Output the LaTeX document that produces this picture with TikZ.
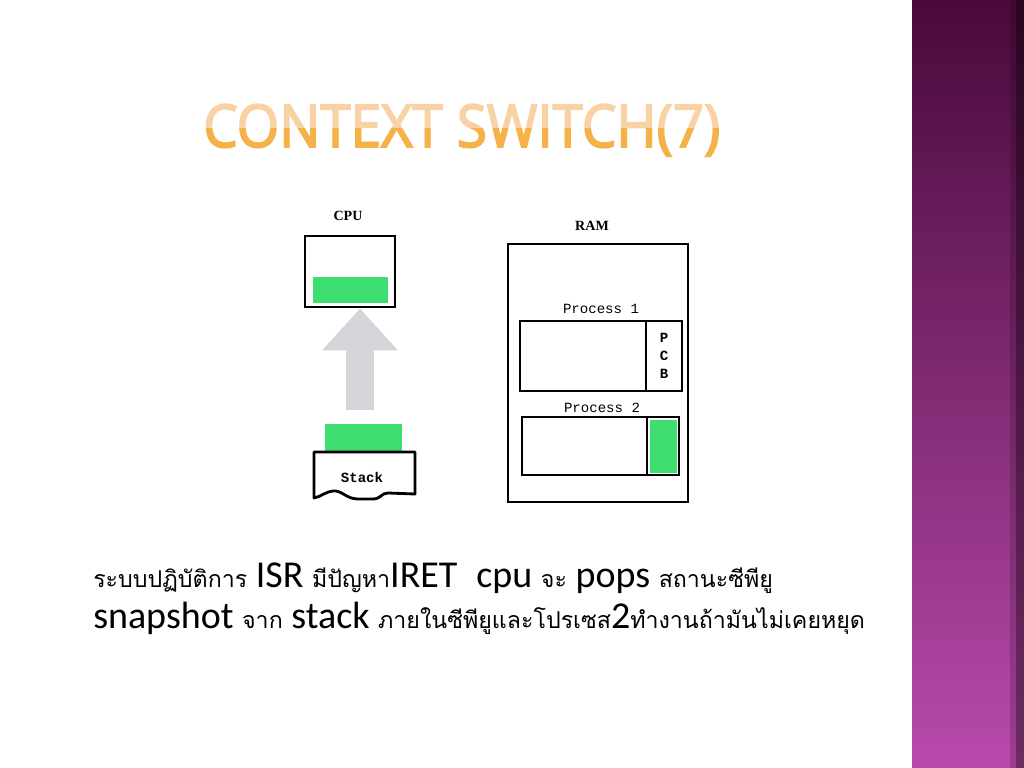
\documentclass[tikz,border=0pt]{standalone}
\usepackage{fontspec}
\setmainfont{Liberation Serif}
\newfontfamily\thaifont[Script=Thai]{Loma}
\newfontfamily\latfont{Carlito}
\newfontfamily\titlefont[FakeBold=3]{Open Sans}
\newfontfamily\courfont{Liberation Mono}
\usetikzlibrary{arrows.meta}

\definecolor{regGreen}{RGB}{62,222,112}
\definecolor{arrowGray}{RGB}{212,212,217}
\definecolor{titlePale}{RGB}{248,210,165}
\definecolor{titleOrange}{RGB}{244,178,72}
\definecolor{barTop}{RGB}{72,10,58}
\definecolor{barMid}{RGB}{126,46,112}
\definecolor{barBot}{RGB}{184,74,172}

\newcommand{\thtext}[1]{{\thaifont\fontsize{16.5}{20}\selectfont #1}}
\newcommand{\titletext}{\scalebox{0.925}[1]{CONTEXT SWITCH(7)}}

\tikzset{
  box/.style={draw=black, line width=2pt, inner sep=0pt},
  reg/.style={fill=regGreen, inner sep=0pt},
  hwlabel/.style={font=\bfseries\fontsize{10}{11}\selectfont},
  proclabel/.style={font=\courfont\fontsize{10}{12}\selectfont},
  titlestyle/.style={anchor=base west, inner sep=0pt, font=\titlefont\fontsize{42}{48}\selectfont},
  textline/.style={anchor=base west, inner sep=0pt, font=\latfont\fontsize{27}{30}\selectfont}
}

\begin{document}
\begin{tikzpicture}[x=0.025cm,y=-0.025cm]
\useasboundingbox (0,0) rectangle (1024,768);

% purple side bar
\shade[top color=barTop, middle color=barMid, bottom color=barBot]
   (912,0) rectangle (1024,768);
\fill[black, opacity=0.15] (1010,0) rectangle (1024,768);
\fill[black, opacity=0.3] (1016,0) rectangle (1024,768);

% title, pale on top and orange below
\node[titlestyle, text=titlePale] (title) at (203,147) {\titletext};
\begin{scope}
  \clip (190,129) rectangle (740,165);
  \node[titlestyle, text=titleOrange] (titlelow) at (203,147) {\titletext};
\end{scope}

% cpu
\node[hwlabel] (cpulbl) at (348,216) {CPU};
\node[box, minimum width=2.25cm, minimum height=1.775cm] (cpu) at (350,271.5) {};
\node[reg, minimum width=1.875cm, minimum height=0.65cm] (cpureg) at (350.5,290) {};

% stack
\node[reg, minimum width=1.925cm, minimum height=0.7cm] (stackreg) at (363.5,438) {};
\draw[line width=2pt, line join=round]
   (314,452) -- (415,452) -- (415,494) -- (388,493)
   .. controls (381,493) and (381,499) .. (373,499) -- (358,499)
   .. controls (346,499) and (342,490) .. (333,491)
   .. controls (325,492) and (320,497) .. (314,498) -- cycle;
\node[proclabel, font=\courfont\bfseries\fontsize{10}{12}\selectfont] (stack) at (362,477) {Stack};

% arrow from stack to cpu
\coordinate (arrowfoot) at (360,410);
\draw[arrowGray, line width=0.7cm, -{Triangle[width=1.83cm, length=1.05cm]}]
   (arrowfoot) -- (arrowfoot |- cpu.south);

% ram
\node[hwlabel] (ramlbl) at (592,226) {RAM};
\node[box, minimum width=4.5cm, minimum height=6.45cm] (ram) at (598,373) {};

\node[proclabel] (p1lbl) at (601,309) {Process 1};
\node[box, minimum width=3.15cm, minimum height=1.75cm] (proc1) at (583,356) {};
\node[box, minimum width=0.9cm, minimum height=1.75cm, align=center,
   font=\courfont\bfseries\fontsize{10}{12.8}\selectfont] (pcb1) at (664,356) {P\\C\\B};

\node[proclabel] (p2lbl) at (602,408) {Process 2};
\node[box, minimum width=3.125cm, minimum height=1.45cm] (proc2) at (584.5,446) {};
\node[box, minimum width=0.8cm, minimum height=1.45cm] (pcb2) at (663,446) {};
\node[reg, minimum width=0.675cm, minimum height=1.325cm] (pcb2reg) at (663.5,446.5) {};

% text
\node[textline] (line1) at (93,587)
   {\thtext{ระบบปฏิบัติการ} ISR \thtext{มีปัญหา}IRET\hspace{0.5em}cpu \thtext{จะ} pops \thtext{สถานะซีพียู}};
\node[textline] (line2) at (93,628)
   {snapshot \thtext{จาก} stack \thtext{ภายในซีพียูและโปรเซส}2\thtext{ทำงานถ้ามันไม่เคยหยุด}};

\end{tikzpicture}
\end{document}
